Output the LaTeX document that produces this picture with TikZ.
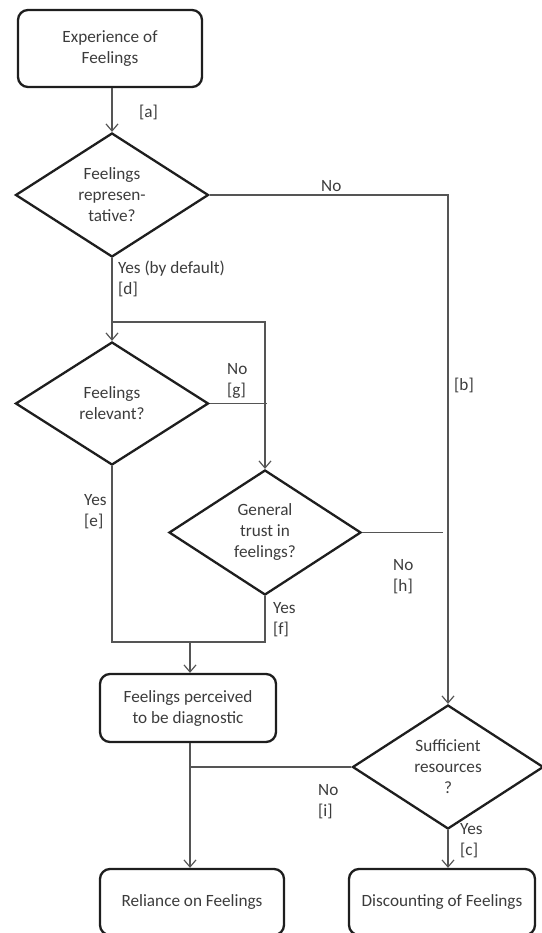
\documentclass[tikz,border=0pt]{standalone}
\usepackage{fontspec}
\setmainfont{Carlito}
\usetikzlibrary{shapes.geometric,arrows.meta}
\definecolor{txtcol}{HTML}{3C3C3C}
\definecolor{edgecol}{HTML}{1E1E1E}
\definecolor{lncol}{HTML}{555555}
\begin{document}
\begin{tikzpicture}[x=1pt,y=-1pt,
  font=\fontsize{17.2}{21}\selectfont, text=txtcol,
  box/.style={draw=edgecol, line width=2.3pt, rounded corners=10pt, align=center, inner sep=0pt},
  dia/.style={draw=edgecol, line width=2.3pt, diamond, inner sep=0pt, align=center},
  conn/.style={draw=lncol, line width=1.2pt},
  arr/.style={conn, -{Straight Barb[length=7pt,width=12pt,line width=1.2pt]}},
  lab/.style={inner sep=0pt, anchor=west, align=left}
]
\useasboundingbox (0,0) rectangle (541,933);

% nodes
\node[box, minimum width=184pt, minimum height=77pt] (exp) at (110,48.5) {Experience of\\Feelings};
\node[dia, minimum width=193pt, minimum height=124pt] (d1) at (112,195) {Feelings\\represen-\\tative?};
\node[dia, minimum width=193pt, minimum height=123pt] (d2) at (112,403.5) {Feelings\\relevant?};
\node[dia, minimum width=192pt, minimum height=125pt] (d3) at (265,532.5) {General\\trust in\\feelings?};
\node[box, minimum width=176pt, minimum height=68pt] (diag) at (188,708) {Feelings perceived\\to be diagnostic};
\node[dia, minimum width=191pt, minimum height=124pt] (d4) at (448,767) {Sufficient\\resources\\?};
\node[box, minimum width=184pt, minimum height=66pt] (rel) at (192,902) {Reliance on Feelings};
\node[box, minimum width=186pt, minimum height=66pt] (disc) at (442,902) {Discounting of Feelings};

% junctions
\coordinate (j1) at (112,322);
\coordinate (jm) at (190,642);
\coordinate (jh) at ([xshift=-5pt]d3.east -| d4.north);

% connectors
\draw[arr] (d1.north |- exp.south) -- (d1.north);
\draw[arr] (d1.east) -- (d1.east -| d4.north) -- (d4.north);
\draw[arr] (d1.south) -- (d2.north);
\draw[arr] (j1) -| (d3.north);
\draw[conn] (d2.east) -- ([xshift=1.5pt]d2.east -| d3.north);
\draw[conn] (d3.east) -- (jh);
\draw[conn] (d2.south) |- (jm) -| (d3.south);
\draw[arr] (jm) -- (jm |- diag.north);
\draw[arr] (jm |- diag.south) -- (jm |- rel.north);
\draw[conn] (d4.west) -- (d4.west -| jm);
\draw[arr] (d4.south) -- (d4.south |- disc.north);

% labels
\node[lab] (la) at (139,112) {[a]};
\node[lab] (lno1) at (321,186) {No};
\node[lab] (ld) at (118,279) {Yes (by default)\\{}[d]};
\node[lab] (lg) at (227,381) {No\\{}[g]};
\node[lab] (lb) at (454,385) {[b]};
\node[lab] (le) at (84,512) {Yes\\{}[e]};
\node[lab] (lh) at (393,577) {No\\{}[h]};
\node[lab] (lf) at (273,620) {Yes\\{}[f]};
\node[lab] (li) at (318,802) {No\\{}[i]};
\node[lab] (lc) at (460,841) {Yes\\{}[c]};
\end{tikzpicture}
\end{document}
